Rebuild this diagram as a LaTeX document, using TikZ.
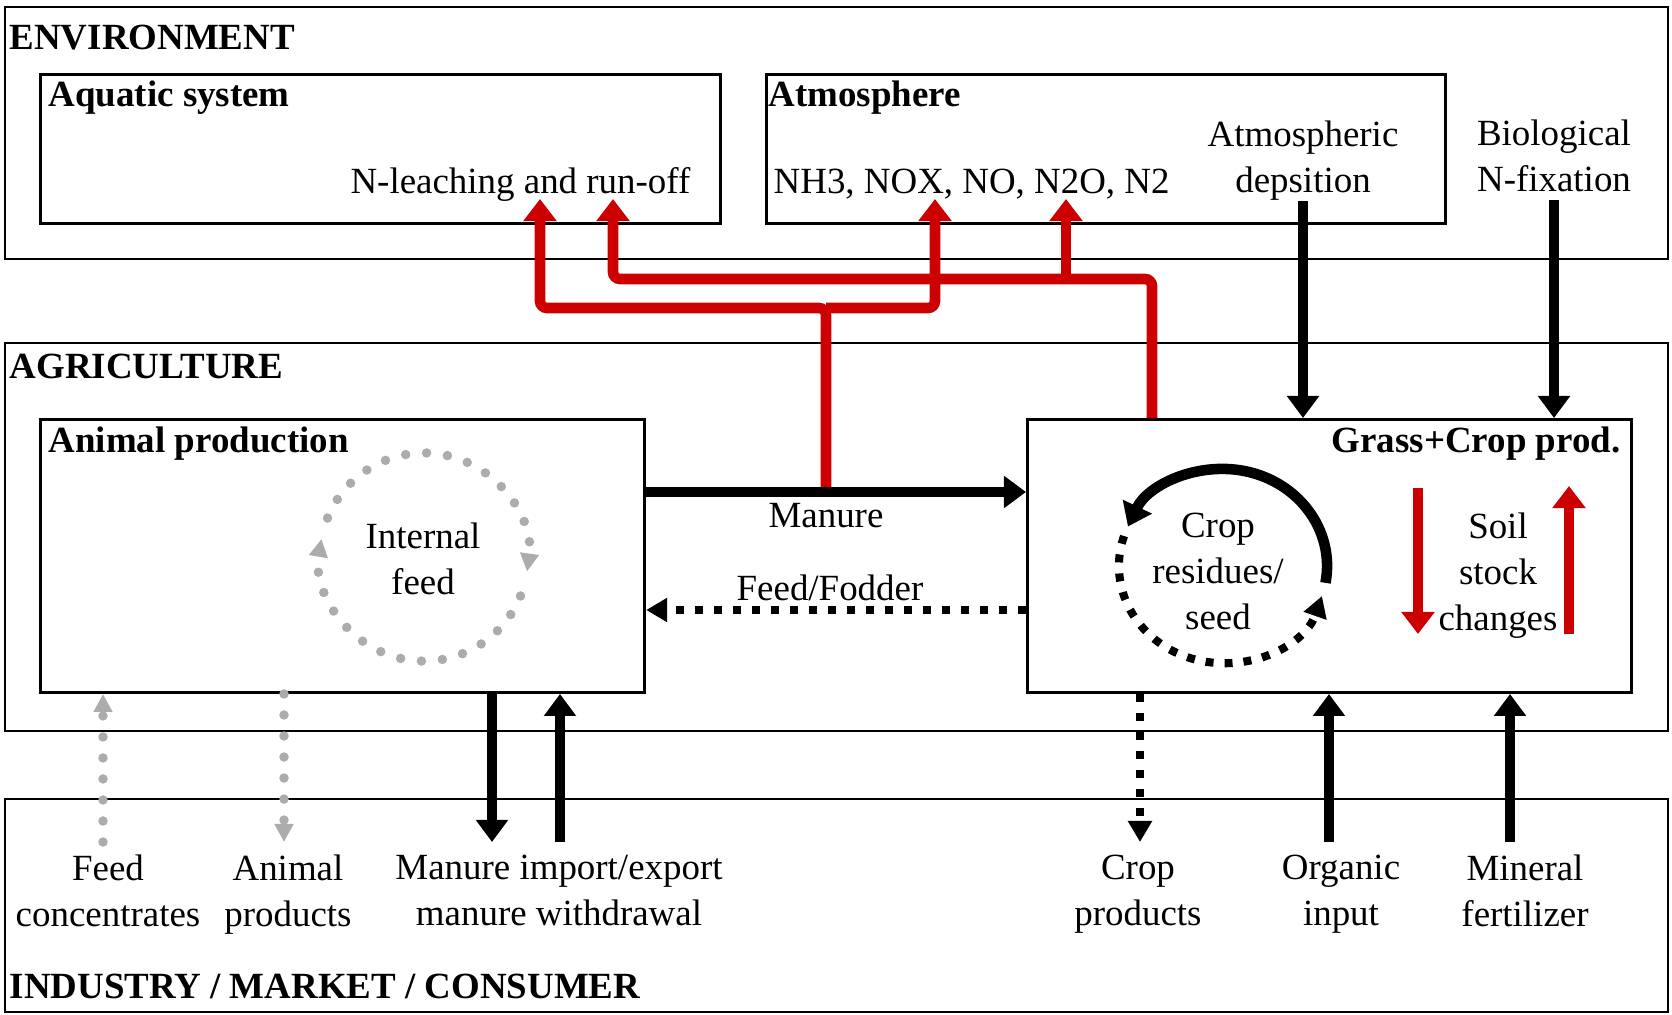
\documentclass[tikz,border=0pt]{standalone}
\usepackage{fontspec}
\setmainfont{Liberation Serif}
\usetikzlibrary{arrows.meta}
\definecolor{nred}{RGB}{204,0,0}
\definecolor{ngrey}{RGB}{172,172,172}

\begin{document}
\begin{tikzpicture}[x=0.01cm,y=-0.01cm]
\tikzstyle{every node}+=[inner sep=0pt,font=\fontsize{10.5}{13.1}\selectfont]
\tikzstyle{bigbox}=[draw,line width=0.6pt,anchor=north west,minimum width=16.62cm]
\tikzstyle{subbox}=[draw,line width=0.8pt,anchor=north west]
\tikzstyle{ttl}=[font=\fontsize{10.5}{13.1}\selectfont\bfseries,anchor=base west]
\tikzstyle{lbl}=[align=center]
\tikzstyle{flow}=[line width=3pt,-{Triangle[width=0.31cm,length=0.22cm]}]
\tikzstyle{flowdot}=[line width=2.3pt,dash pattern=on 0.08cm off 0.11cm,-{Triangle[width=0.23cm,length=0.21cm]}]
\tikzstyle{redflow}=[nred,line width=3pt,rounded corners=2pt,-{Triangle[width=0.32cm,length=0.22cm]}]
\tikzstyle{greyflow}=[ngrey,line width=2.7pt,line cap=round,dash pattern=on 0pt off 0.21cm,-{Triangle[width=0.18cm,length=0.18cm]}]
\useasboundingbox (0,0) rectangle (1672,1015);

\node[bigbox,minimum height=2.52cm] (env) at (4,6) {};
\node[bigbox,minimum height=3.88cm] (agri) at (4,342) {};
\node[bigbox,minimum height=2.13cm] (ind) at (4,798) {};
\node[subbox,minimum width=6.80cm,minimum height=1.49cm] (aqua) at (39,73) {};
\node[subbox,minimum width=6.79cm,minimum height=1.49cm] (atmo) at (765,73) {};
\node[subbox,minimum width=6.04cm,minimum height=2.73cm] (anim) at (39,418) {};
\node[subbox,minimum width=6.04cm,minimum height=2.73cm] (grass) at (1026,418) {};

\node[ttl] (envttl) at (9,49) {ENVIRONMENT};
\node[ttl] (agrittl) at (9,378) {AGRICULTURE};
\node[ttl] (indttl) at (9,998) {INDUSTRY / MARKET / CONSUMER};
\node[ttl] (aquattl) at (48,106) {Aquatic system};
\node[ttl] (atmottl) at (768,106) {Atmosphere};
\node[ttl] (animttl) at (48,452) {Animal production};
\node[ttl,anchor=base east] (grassttl) at (1621,452) {Grass+Crop prod.};

\node[anchor=base east] (leach) at (691,193) {N-leaching and run-off};
\node[anchor=base west] (gases) at (773,193) {NH3, NOX, NO, N2O, N2};
\node[lbl,anchor=south] (atmdep) at (1303,201) {Atmospheric\\depsition};
\node[lbl,anchor=south] (bnf) at (1554,193) {Biological\\N-fixation};
\node[lbl,anchor=north] (intf) at (423,522) {Internal\\feed};
\node[lbl,anchor=north] (crres) at (1218,512) {Crop\\residues/\\seed};
\node[lbl,anchor=north] (soil) at (1498,512) {Soil\\stock\\changes};
\node[anchor=base] (manl) at (826,527) {Manure};
\node[anchor=base] (ffl) at (830,600) {Feed/Fodder};
\node[lbl,anchor=north] (feedc) at (108,854) {Feed\\concentrates};
\node[lbl,anchor=north] (animp) at (288,854) {Animal\\products};
\node[lbl,anchor=north] (manx) at (559,854) {Manure import/export\\manure withdrawal};
\node[lbl,anchor=north] (cropp) at (1138,854) {Crop\\products};
\node[lbl,anchor=north] (orgin) at (1341,854) {Organic\\input};
\node[lbl,anchor=north] (minf) at (1525,854) {Mineral\\fertilizer};

\coordinate (mj) at (826,492);
\coordinate (fj) at (830,610);
\coordinate (rj1) at (826,308);
\coordinate (rj2) at (1152,279);
\coordinate (aq1) at (540,199);
\coordinate (aq2) at (613,199);
\coordinate (at1) at (935,199);
\coordinate (at2) at (1066,199);
\coordinate (fc) at (103,842);
\coordinate (ap) at (284,842);
\coordinate (mi) at (492,842);
\coordinate (mw) at (560,842);
\coordinate (cp) at (1140,842);
\coordinate (oi) at (1329,842);
\coordinate (mf) at (1510,842);
\coordinate (sdt) at (1418,488);
\coordinate (sdb) at (1418,634);
\coordinate (sut) at (1569,486);
\coordinate (sub) at (1569,634);
\coordinate (ic) at (424,557);
\coordinate (cc) at (1223,566);

\draw[redflow] (mj) -- (rj1) -| (aq1);
\draw[redflow] (rj1) -| (at1);
\draw[redflow] (rj2 |- grass.north) -- (rj2) -| (aq2);
\draw[redflow] (at2 |- rj2) -- (at2);
\draw[redflow] (sdt) -- (sdb);
\draw[redflow] (sub) -- (sut);

\draw[flow] (atmdep.south) -- (atmdep.south |- grass.north);
\draw[flow] ([yshift=-2pt]bnf.south) -- (bnf.south |- grass.north);
\draw[flow] (mj -| anim.east) -- (mj -| grass.west);
\draw[flowdot] (fj -| grass.west) -- (fj -| anim.east);

\draw[greyflow] (fc) -- (fc |- anim.south);
\draw[greyflow] (ap |- anim.south) -- (ap);
\draw[flow] (mi |- anim.south) -- (mi);
\draw[flow] (mw) -- (mw |- anim.south);
\draw[flowdot] (cp |- grass.south) -- (cp);
\draw[flow] (oi) -- (oi |- grass.south);
\draw[flow] (mf) -- (mf |- grass.south);

\draw[greyflow] (ic) ++(158:1.04cm) arc[start angle=158,end angle=-8,radius=1.04cm];
\draw[greyflow] (ic) ++(-22:1.04cm) arc[start angle=-22,end angle=-190,radius=1.04cm];
\draw[flow] (cc) ++(-10:1.04cm and 0.97cm) arc[start angle=-10,end angle=156,x radius=1.04cm,y radius=0.97cm];
\draw[flowdot] (cc) ++(162:1.04cm and 0.97cm) arc[start angle=162,end angle=342,x radius=1.04cm,y radius=0.97cm];
\end{tikzpicture}
\end{document}
